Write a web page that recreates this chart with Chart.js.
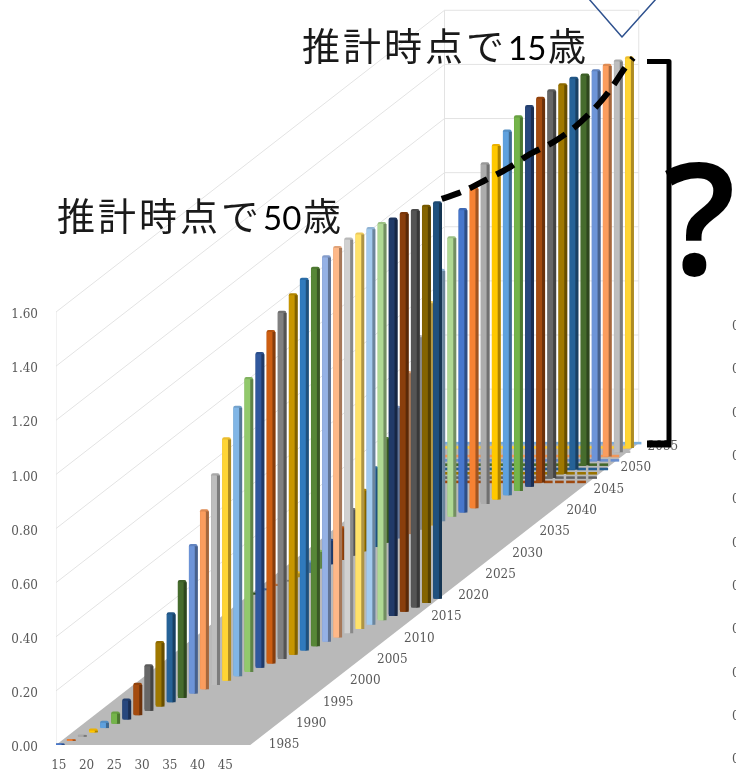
<!DOCTYPE html>
<html lang="ja">
<head>
<meta charset="utf-8">
<title>推計時点別の値</title>
<script src="https://cdn.jsdelivr.net/npm/chart.js@4"></script>
<style>
  html, body { margin: 0; padding: 0; background: #fff; overflow: hidden; }
  canvas { display: block; }
</style>
</head>
<body>
<canvas id="chart" width="736" height="773"></canvas>
<script>
// Age and value ticks on the front axes, year ticks along the floor's depth edge.
const ageTicks = [15, 20, 25, 30, 35, 40, 45];
const valueTicks = [0, 0.2, 0.4, 0.6, 0.8, 1.0, 1.2, 1.4, 1.6];
const yearTicks = [1985, 1990, 1995, 2000, 2005, 2010, 2015, 2020, 2025, 2030, 2035, 2040, 2045, 2050, 2055];

// Ages of a cohort, one per calendar year.
const ages = [15,16,17,18,19,20,21,22,23,24,25,26,27,28,29,30,31,32,33,34,35,36,37,38,39,40,41,42,43,44,45,46,47,48,49];

// Cohort aged 15 in 1985 (front row).
const cohort1985 = [0.005,0.005,0.005,0.012,0.025,0.043,0.075,0.117,0.17,0.24,0.33,0.433,0.55,0.663,0.78,0.897,0.998,1.088,1.164,1.23,1.285,1.334,1.375,1.40,1.426,1.445,1.46,1.463,1.467,1.47,1.47,1.475,1.47,1.47,1.467];
// Cohort aged 15 in 2020 (back row).
const cohort2020 = [0.005,0.005,0.005,0.005,0.02,0.044,0.067,0.092,0.122,0.174,0.229,0.296,0.388,0.488,0.6,0.717,0.827,0.93,1.035,1.123,1.186,1.26,1.312,1.349,1.386,1.408,1.423,1.434,1.441,1.449,1.445,1.445,1.449,1.449,1.445];

// Series colours, one per calendar year starting from 1985.
const palette = ['#4472C4','#ED7D31','#A5A5A5','#FFC000','#5B9BD5','#70AD47','#264478','#9E480E','#636363','#997300','#255E91','#43682B','#698ED0','#F1975A','#B7B7B7','#FFCD33','#7CAFDD','#8CC168','#2F5597','#C55A11','#7B7B7B','#BF9000','#2E75B6','#548235','#8FAADC','#F4B183','#C9C9C9','#FFD966','#9DC3E6','#A9D18E','#203864','#843C0C','#525252','#7F6000','#1F4E79'];

// Dashed guide across the back row, in plot units.
const guideX = [84.0,87.6,91.9,96.0,99.6,104.1,108.0,111.6,114.3,117.0,118.5];
const guideY = [2.018,2.044,2.088,2.132,2.180,2.228,2.284,2.354,2.420,2.502,2.539];

// Oblique projection: each year of depth moves a point right and up on the plot.
const DEPTH_X = 1;
const DEPTH_Y = 0.01593;
const FIRST_YEAR = 1985;
const LAST_YEAR = 2055;
const AGE_MIN = 14.5;
const AGE_MAX = 49.5;
const VALUE_TOP = 1.6;

const depthX = y => (y - FIRST_YEAR) * DEPTH_X;
const depthY = y => (y - FIRST_YEAR) * DEPTH_Y;
const yearColor = y => {
  const i = y - FIRST_YEAR;
  return i < palette.length ? palette[i] : palette[(i - 35 + 11) % 30];
};

// Multiplies each channel of a hex colour.
function shade(hex, f) {
  const n = parseInt(hex.slice(1), 16);
  const c = s => Math.min(255, Math.round(((n >> s) & 255) * f));
  return `rgb(${c(16)},${c(8)},${c(0)})`;
}

// Builds the three faces of a row of bars: cap and body behind, side, lit front.
function barFaces(values, startYear, nudge, order) {
  const rows = values.map((v, i) => {
    const year = startYear + i;
    return { x: ages[i] + depthX(year) + nudge, lift: depthY(year), v, color: yearColor(year) };
  });
  const faces = [
    { thick: 8, dx: 0, cut: 0, f: 0.92, radius: 2 },
    { thick: 3, dx: 0.5, cut: 0.008, f: 0.68, radius: 0 },
    { thick: 5, dx: -0.23, cut: 0.008, f: 1.04, radius: 0 }
  ];
  return faces.map((face, k) => ({
    type: 'bar',
    order: order - k,
    barThickness: face.thick,
    grouped: false,
    borderRadius: { topLeft: face.radius, topRight: face.radius, bottomLeft: face.radius, bottomRight: face.radius },
    borderSkipped: false,
    backgroundColor: rows.map(r => shade(r.color, face.f)),
    data: rows.map(r => ({
      x: r.x + face.dx,
      y: [r.lift, r.lift + Math.max(r.v - face.cut, 0.003)]
    }))
  }));
}

// Zero-height marks for the last years on the floor, visible behind the back row.
function zeroRows() {
  const out = [];
  for (let y = 2046; y <= LAST_YEAR; y++) {
    const cells = ages
      .filter(a => (a + y) % 2 === 0 && a + depthX(y) > AGE_MIN + depthX(LAST_YEAR) - 0.4)
      .map(a => ({ x: a + depthX(y) + 0.2, y: [depthY(y) - 0.003, depthY(y) + 0.004] }));
    out.push({
      type: 'bar', order: 90, barThickness: 8, grouped: false,
      backgroundColor: yearColor(y), data: cells
    });
  }
  return out;
}

// Wall gridlines: left wall going back, then across the back wall.
function wallLines() {
  const c = '#e3e3e3';
  const line = pts => ({
    type: 'line', order: 100, data: pts, borderColor: c, borderWidth: 1,
    pointRadius: 0, tension: 0, fill: false
  });
  const backLeft = AGE_MIN + depthX(LAST_YEAR);
  const backRight = AGE_MAX + depthX(LAST_YEAR);
  const rise = depthY(LAST_YEAR);
  const sets = valueTicks.filter(v => v > 0).map(v => line([
    { x: AGE_MIN, y: v }, { x: backLeft, y: v + rise }, { x: backRight, y: v + rise }
  ]));
  sets.push(line([{ x: AGE_MIN, y: 0 }, { x: AGE_MIN, y: VALUE_TOP }]));
  sets.push(line([{ x: backLeft, y: rise }, { x: backLeft, y: VALUE_TOP + rise }]));
  sets.push(line([{ x: backRight, y: rise }, { x: backRight, y: VALUE_TOP + rise }]));
  return sets;
}

// Floor parallelogram, drawn under the datasets.
const floorPlugin = {
  id: 'floor',
  beforeDatasetsDraw(chart) {
    const { ctx, scales: { x, y } } = chart;
    const rise = depthY(LAST_YEAR), run = depthX(LAST_YEAR);
    const pts = [[AGE_MIN, 0], [AGE_MAX, 0], [AGE_MAX + run, rise], [AGE_MIN + run, rise]];
    ctx.save();
    ctx.fillStyle = '#b9b9b9';
    ctx.beginPath();
    pts.forEach(([a, b], i) => {
      const px = x.getPixelForValue(a), py = y.getPixelForValue(b);
      i ? ctx.lineTo(px, py) : ctx.moveTo(px, py);
    });
    ctx.closePath();
    ctx.fill();
    ctx.restore();
  }
};

// Year labels along the depth edge, callouts and the bracket.
const overlayPlugin = {
  id: 'overlay',
  afterDraw(chart) {
    const { ctx, scales: { x, y } } = chart;
    ctx.save();

    ctx.font = '12px "DejaVu Serif"';
    ctx.fillStyle = '#595959';
    ctx.textAlign = 'center';
    ctx.textBaseline = 'middle';
    yearTicks.forEach(yr => {
      const d = yr - FIRST_YEAR;
      ctx.fillText(String(yr), x.getPixelForValue(55.6 + d * 0.975), y.getPixelForValue(0.0 + d * 0.01573));
    });

    // Edge of the neighbouring axis, cut off by the page.
    ctx.textAlign = 'left';
    for (let k = 0; k < 11; k++) ctx.fillText('0', 732, 327 + k * 43.3);

    // Callouts
    const callout = (left, base, digits) => {
      ctx.fillStyle = '#1a1a1a';
      ctx.textAlign = 'left';
      ctx.textBaseline = 'alphabetic';
      ctx.font = '38px "Noto Sans CJK JP"';
      ctx.letterSpacing = '3px';
      ctx.fillText('推計時点で', left, base);
      ctx.letterSpacing = '0px';
      ctx.font = '33px "Lato", "Noto Sans"';
      ctx.fillStyle = '#000';
      ctx.fillText(digits, left + 206, base);
      ctx.fillStyle = '#1a1a1a';
      ctx.font = '38px "Noto Sans CJK JP"';
      ctx.fillText('歳', left + 246, base);
    };
    callout(302, 60, '15');
    callout(57, 230, '50');

    // Bracket
    ctx.strokeStyle = '#000';
    ctx.lineWidth = 5;
    ctx.lineJoin = 'round';
    ctx.beginPath();
    ctx.moveTo(647, 61.5);
    ctx.lineTo(669, 61.5);
    ctx.lineTo(669, 441);
    ctx.stroke();
    ctx.lineWidth = 7;
    ctx.beginPath();
    ctx.moveTo(671.5, 444);
    ctx.lineTo(647, 444);
    ctx.stroke();

    // Question mark
    ctx.fillStyle = '#000';
    ctx.font = '600 155px "Noto Sans"';
    ctx.textAlign = 'left';
    ctx.fillText('?', 664, 275);

    // Pointer at the top edge
    ctx.strokeStyle = '#2F528F';
    ctx.lineWidth = 1.5;
    ctx.beginPath();
    ctx.moveTo(589, -1);
    ctx.lineTo(622, 37);
    ctx.lineTo(656, -1);
    ctx.stroke();

    ctx.restore();
  }
};

const guide = {
  type: 'line', order: 1,
  data: guideX.map((gx, i) => ({ x: gx, y: guideY[i] })),
  borderColor: '#000', borderWidth: 6, borderDash: [20, 10],
  pointRadius: 0, tension: 0.3, fill: false
};

new Chart(document.getElementById('chart'), {
  type: 'bar',
  data: {
    datasets: [
      ...wallLines(),
      ...zeroRows(),
      ...barFaces(cohort2020, 2020, -0.2, 80),
      ...barFaces(cohort1985, 1985, 0.22, 70),
      guide
    ]
  },
  options: {
    responsive: false,
    animation: false,
    layout: { padding: 0 },
    plugins: { legend: { display: false }, tooltip: { enabled: false } },
    scales: {
      x: {
        type: 'linear', offset: false, min: AGE_MIN, max: AGE_MIN + 680 / 5.55,
        grid: { display: false }, border: { display: false },
        afterBuildTicks: s => { s.ticks = ageTicks.map(value => ({ value })); },
        afterFit: s => { s.height = 28; s.paddingLeft = 0; s.paddingRight = 0; },
        ticks: {
          autoSkip: false, maxRotation: 0, padding: 6, color: '#595959',
          font: { family: '"DejaVu Serif"', size: 12 },
          callback: v => String(v)
        }
      },
      y: {
        type: 'linear', min: 0, max: 745 / 270.6,
        grid: { display: false }, border: { display: false },
        afterBuildTicks: s => { s.ticks = valueTicks.map(value => ({ value })); },
        afterFit: s => { s.width = 56; s.paddingTop = 0; s.paddingBottom = 0; },
        ticks: {
          autoSkip: false, padding: 10, labelOffset: 3, color: '#595959',
          font: { family: '"DejaVu Serif"', size: 12 },
          callback: v => v.toFixed(2)
        }
      }
    }
  },
  plugins: [floorPlugin, overlayPlugin]
});
</script>
</body>
</html>
